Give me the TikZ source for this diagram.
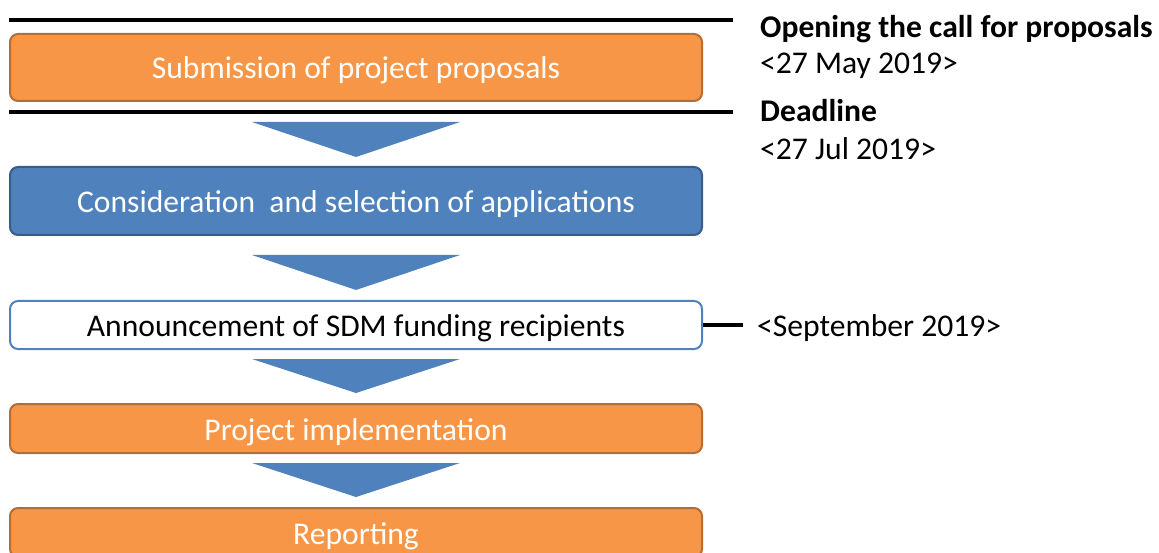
\documentclass[tikz,border=0pt]{standalone}
\usepackage{fontspec}
\setmainfont{Carlito}
\definecolor{orfill}{HTML}{F79646}
\definecolor{ordraw}{HTML}{B66D31}
\definecolor{blfill}{HTML}{4F81BD}
\definecolor{bldraw}{HTML}{385D8A}
\tikzset{
  stage/.style={rounded corners=8pt, line width=2pt, minimum width=692pt, inner sep=0pt,
    font=\fontsize{31.6}{36}\selectfont, text height=23pt, text depth=0pt},
  orangebox/.style={stage, fill=orfill, draw=ordraw, text=white},
  bluebox/.style={stage, fill=blfill, draw=bldraw, text=white},
  whitebox/.style={stage, fill=white, draw=blfill, text=black},
  chevron/.style={fill=blfill},
  rulebar/.style={line width=4.5pt, black},
  datelabel/.style={anchor=base west, inner sep=0pt, font=\fontsize{31.6}{36}\selectfont},
}
\begin{document}
\begin{tikzpicture}[x=1pt,y=-1pt]
\useasboundingbox (0,0) rectangle (1159,553);
\begin{scope}
\clip (0,0) rectangle (1159,553);
\node[orangebox, minimum height=67pt] (b1) at (356,67.5) {Submission of project proposals};
\node[bluebox, minimum height=68pt] (b2) at (356,201) {Consideration\ \ and selection of applications};
\node[whitebox, minimum height=48pt] (b3) at (356,325) {Announcement of SDM funding recipients};
\node[orangebox, minimum height=49pt] (b4) at (356,428.5) {Project implementation};
\node[orangebox, minimum height=49pt] (b5) at (356,532.5) {Reporting};
\end{scope}
% chevrons
\fill[chevron] (252,122) -- (460,122) -- (356,157) -- cycle;
\fill[chevron] (252,255) -- (460,255) -- (356,290) -- cycle;
\fill[chevron] (252,359) -- (460,359) -- (356,393) -- cycle;
\fill[chevron] (252,463) -- (460,463) -- (356,497) -- cycle;
% rules and labels
\coordinate (r1a) at (9,20);
\coordinate (r1b) at (733,20);
\coordinate (r2a) at (9,112);
\coordinate (r2b) at (733,112);
\draw[rulebar] (r1a) -- (r1b);
\draw[rulebar] (r2a) -- (r2b);
\node[datelabel] (open) at (760,38) {\bfseries Opening the call for proposals};
\node[datelabel] (may) at (760,74) {<27 May 2019>};
\node[datelabel] (dead) at (760,121.5) {\bfseries Deadline};
\node[datelabel] (jul) at (760,159.5) {<27 Jul 2019>};
\node[datelabel] (sep) at (757,336) {<September 2019>};
\coordinate (r3b) at (743,0 |- b3.east);
\draw[rulebar] (b3.east) -- (r3b);
\end{tikzpicture}
\end{document}
